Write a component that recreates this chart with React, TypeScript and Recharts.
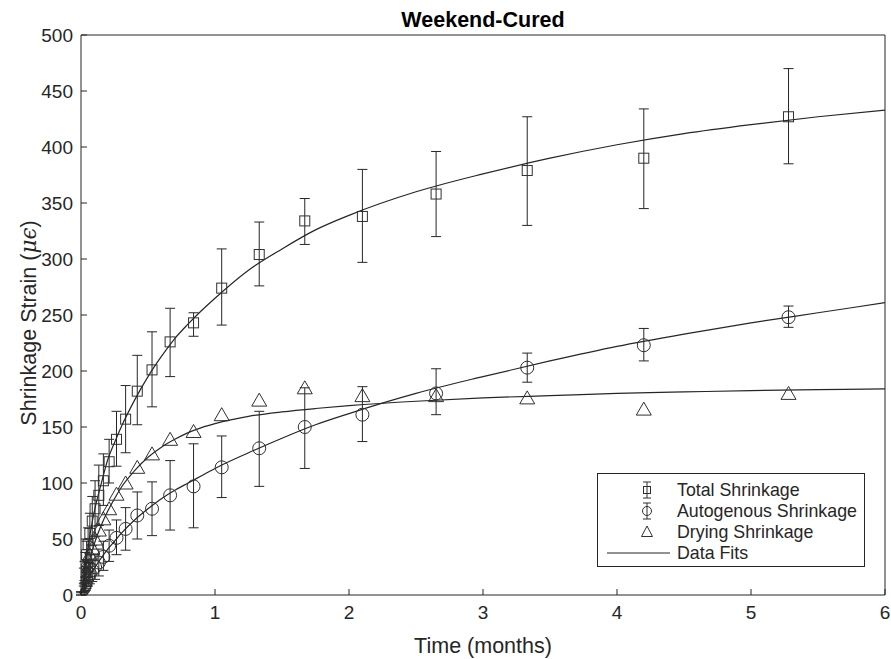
import React from "react";
import {
  ComposedChart, Line, Scatter, ErrorBar, XAxis, YAxis, Legend,
} from "recharts";

const INK = "#262626";
const MARK = "#303030";
const FONT = "'Liberation Sans', Arial, Helvetica, sans-serif";

// measurement ages (months)
const times = [
  0, 0.021, 0.026, 0.033, 0.042, 0.053, 0.066, 0.084, 0.105, 0.133, 0.167, 0.21, 0.265,
  0.333, 0.42, 0.53, 0.665, 0.84, 1.05, 1.33, 1.67, 2.1, 2.65, 3.33, 4.2, 5.28,
];

const totalMean = [0, 16, 21, 27, 36, 45, 55, 66, 77, 89, 102, 119, 139, 157, 182, 201, 226, 243, 274, 304, 334, 338, 358, 379, 390, 427];
const totalLow = [0, 8, 11, 16, 22, 29, 36, 44, 52, 62, 80, 100, 115, 127, 152, 168, 195, 231, 241, 276, 313, 297, 320, 330, 345, 385];
const totalHigh = [3, 24, 30, 38, 48, 60, 73, 88, 102, 116, 126, 139, 164, 187, 214, 235, 256, 252, 309, 333, 354, 380, 396, 427, 434, 470];

const autoMean = [0, 6, 8, 10, 13, 16, 19, 22, 25, 29, 34, 44, 51, 59, 71, 77, 89, 97, 114, 131, 150, 161, 180, 203, 223, 248];
const autoLow = [0, 2, 3, 4, 6, 8, 10, 12, 14, 17, 22, 30, 36, 40, 50, 53, 58, 60, 87, 97, 113, 137, 161, 190, 209, 239];
const autoHigh = [2, 10, 13, 16, 20, 24, 28, 32, 36, 41, 48, 58, 67, 78, 92, 101, 120, 135, 142, 164, 185, 186, 202, 216, 238, 258];

const dryingMean = [0, 13, 17, 21, 26, 31, 36, 42, 50, 58, 68, 77, 90, 100, 114, 126, 139, 146, 161, 174, 185, 178, 178, 176, 166, 180];

// fitted curves
const fitTimes = [0, 0.01, 0.02, 0.04, 0.07, 0.1, 0.15, 0.2, 0.25, 0.3, 0.4, 0.5, 0.6, 0.7, 0.8, 0.9, 1, 1.25, 1.5, 1.75, 2, 2.5, 3, 3.5, 4, 4.5, 5, 5.5, 6];
const totalFit = [0, 8, 16, 32, 56, 75, 99, 121, 136, 150, 174, 195, 213, 229, 242, 254, 265, 290, 309, 326, 339, 360, 376, 390, 402, 412, 420, 427, 433];
const autoFit = [0, 3, 6, 11, 18, 24, 33, 41, 48, 55, 67, 77, 86, 93.5, 100, 106.5, 113, 127, 140, 152, 162, 180, 195, 209, 222, 233, 243, 252, 261];
const dryingFit = [0, 5, 10, 20, 34, 46, 62, 75, 86, 96, 111, 123, 132, 139, 145, 149.5, 153, 159.5, 163.5, 166.5, 169, 173, 176, 178, 180, 181.3, 182.5, 183.3, 184];

const xTicks = [0, 1, 2, 3, 4, 5, 6];
const yTicks = [0, 50, 100, 150, 200, 250, 300, 350, 400, 450, 500];

const withErr = (mean: number[], low: number[], high: number[]) =>
  times.map((t, i) => ({ t, v: mean[i], err: [mean[i] - low[i], high[i] - mean[i]] }));
const pts = (xs: number[], ys: number[]) => xs.map((t, i) => ({ t, v: ys[i] }));

const totalData = withErr(totalMean, totalLow, totalHigh);
const autoData = withErr(autoMean, autoLow, autoHigh);
const dryingData = pts(times, dryingMean);
const totalFitData = pts(fitTimes, totalFit);
const autoFitData = pts(fitTimes, autoFit);
const dryingFitData = pts(fitTimes, dryingFit);

// ticks point into the plot box, MATLAB style
const TICK_LEN = 6;
const BOTTOM_GAP = 11;
const LEFT_GAP = 8;
const tickText = { fill: INK, fontSize: 19, fontFamily: FONT };

function BottomTick({ x, y, payload }: any) {
  const axisY = y - BOTTOM_GAP;
  return (
    <g>
      <line x1={x} y1={axisY} x2={x} y2={axisY - TICK_LEN} stroke={INK} />
      <text x={x} y={y} dy="0.71em" textAnchor="middle" style={tickText}>{payload.value}</text>
    </g>
  );
}
function LeftTick({ x, y, payload }: any) {
  const axisX = x + LEFT_GAP;
  return (
    <g>
      <line x1={axisX} y1={y} x2={axisX + TICK_LEN} y2={y} stroke={INK} />
      <text x={x} y={y} dy="0.355em" textAnchor="end" style={tickText}>{payload.value}</text>
    </g>
  );
}
function TopTick({ x, y }: any) {
  return <line x1={x} y1={y} x2={x} y2={y + TICK_LEN} stroke={INK} />;
}
function RightTick({ x, y }: any) {
  return <line x1={x} y1={y} x2={x - TICK_LEN} y2={y} stroke={INK} />;
}

function SquareMark({ cx, cy }: any) {
  return <rect x={cx - 5} y={cy - 5} width={10} height={10} fill="none" stroke={MARK} strokeWidth={1} />;
}
function CircleMark({ cx, cy }: any) {
  return <circle cx={cx} cy={cy} r={6.5} fill="none" stroke={MARK} strokeWidth={1} />;
}
function TriangleMark({ cx, cy }: any) {
  return (
    <polygon
      points={`${cx},${cy - 7} ${cx - 7.5},${cy + 6} ${cx + 7.5},${cy + 6}`}
      fill="none" stroke={MARK} strokeWidth={1}
    />
  );
}

function LegendBox() {
  const tx = 80;
  const textStyle = { fontFamily: FONT, fontSize: 17.8, fill: INK };
  return (
    <svg width={269} height={95} style={{ display: "block", background: "#fff" }}>
      <rect x={0.5} y={0.5} width={267} height={93} fill="#fff" stroke={INK} strokeWidth={1} />
      {/* total: square with bar */}
      <g stroke={MARK} strokeWidth={1} fill="none">
        <line x1={50} y1={9} x2={50} y2={25} />
        <line x1={46} y1={9} x2={54} y2={9} />
        <line x1={46} y1={25} x2={54} y2={25} />
        <rect x={46.5} y={13.5} width={7} height={7} />
      </g>
      {/* autogenous: circle with bar */}
      <g stroke={MARK} strokeWidth={1} fill="none">
        <line x1={50} y1={30} x2={50} y2={46} />
        <line x1={46} y1={30} x2={54} y2={30} />
        <line x1={46} y1={46} x2={54} y2={46} />
        <circle cx={50} cy={38} r={4.5} />
      </g>
      <polygon points="50,53 44.5,63.5 55.5,63.5" fill="none" stroke={MARK} strokeWidth={1} />
      <line x1={10} y1={80} x2={73} y2={80} stroke={INK} strokeWidth={1.2} />
      <text x={tx} y={23} style={textStyle}>Total Shrinkage</text>
      <text x={tx} y={44} style={textStyle}>Autogenous Shrinkage</text>
      <text x={tx} y={65} style={textStyle}>Drying Shrinkage</text>
      <text x={tx} y={86} style={textStyle}>Data Fits</text>
    </svg>
  );
}

function TitleLabel({ viewBox }: any) {
  const { x, y, width } = viewBox;
  return (
    <text x={x + width / 2} y={y + 22} textAnchor="middle"
      style={{ fontFamily: FONT, fontSize: 21.5, fontWeight: "bold", fill: "#000" }}>
      Weekend-Cured
    </text>
  );
}

function XLabel({ viewBox }: any) {
  const { x, y, width } = viewBox;
  return (
    <text x={x + width / 2} y={y + 58} textAnchor="middle"
      style={{ fontFamily: FONT, fontSize: 21.5, fill: INK }}>
      Time (months)
    </text>
  );
}

function YLabel({ viewBox }: any) {
  const { y, height } = viewBox;
  const cx = 36;
  const cy = y + height / 2 + 8;
  return (
    <text x={cx} y={cy} textAnchor="middle" transform={`rotate(-90, ${cx}, ${cy})`}
      style={{ fontFamily: FONT, fontSize: 21.5, fill: INK }}>
      Shrinkage Strain (
      <tspan fontStyle="italic" fontFamily="'DejaVu Serif', serif">μϵ</tspan>)
    </text>
  );
}

export default function App() {
  return (
    <div style={{ position: "absolute", left: 0, top: 0, background: "#fff" }}>
      <ComposedChart width={891} height={659} margin={{ top: 5, right: 0, bottom: 4, left: 0 }}>
        <XAxis
          xAxisId={0} dataKey="t" type="number" domain={[0, 6]} ticks={xTicks}
          height={60} tickSize={0} tickMargin={BOTTOM_GAP} tickLine={false} stroke={INK}
          tick={<BottomTick />} allowDataOverflow label={<XLabel />}
        />
        <XAxis
          xAxisId="top" orientation="top" type="number" domain={[0, 6]} ticks={xTicks}
          height={30} tickSize={0} tickMargin={0} tickLine={false} stroke={INK}
          tick={<TopTick />} label={<TitleLabel />}
        />
        <YAxis
          yAxisId={0} dataKey="v" type="number" domain={[0, 500]} ticks={yTicks}
          width={81} tickSize={0} tickMargin={LEFT_GAP} tickLine={false} stroke={INK}
          tick={<LeftTick />} allowDataOverflow label={<YLabel />}
        />
        <YAxis
          yAxisId="right" orientation="right" type="number" domain={[0, 500]} ticks={yTicks}
          width={6} tickSize={0} tickMargin={0} tickLine={false} stroke={INK}
          tick={<RightTick />}
        />
        <Legend
          layout="horizontal" verticalAlign="middle" align="center"
          wrapperStyle={{ position: "absolute", left: 597, top: 473, width: 269, height: 95 }}
          content={() => <LegendBox />}
        />
        <Scatter name="Total Shrinkage" data={totalData} dataKey="v" shape={SquareMark} isAnimationActive={false}>
          <ErrorBar dataKey="err" direction="y" width={5} stroke={INK} strokeWidth={1} isAnimationActive={false} />
        </Scatter>
        <Scatter name="Autogenous Shrinkage" data={autoData} dataKey="v" shape={CircleMark} isAnimationActive={false}>
          <ErrorBar dataKey="err" direction="y" width={5} stroke={INK} strokeWidth={1} isAnimationActive={false} />
        </Scatter>
        <Scatter name="Drying Shrinkage" data={dryingData} dataKey="v" shape={TriangleMark} isAnimationActive={false} />
        <Line data={totalFitData} dataKey="v" type="monotone" stroke={INK} strokeWidth={1.2} dot={false} isAnimationActive={false} legendType="none" />
        <Line data={autoFitData} dataKey="v" type="monotone" stroke={INK} strokeWidth={1.2} dot={false} isAnimationActive={false} legendType="none" />
        <Line data={dryingFitData} dataKey="v" type="monotone" stroke={INK} strokeWidth={1.2} dot={false} isAnimationActive={false} legendType="none" />
      </ComposedChart>
    </div>
  );
}
